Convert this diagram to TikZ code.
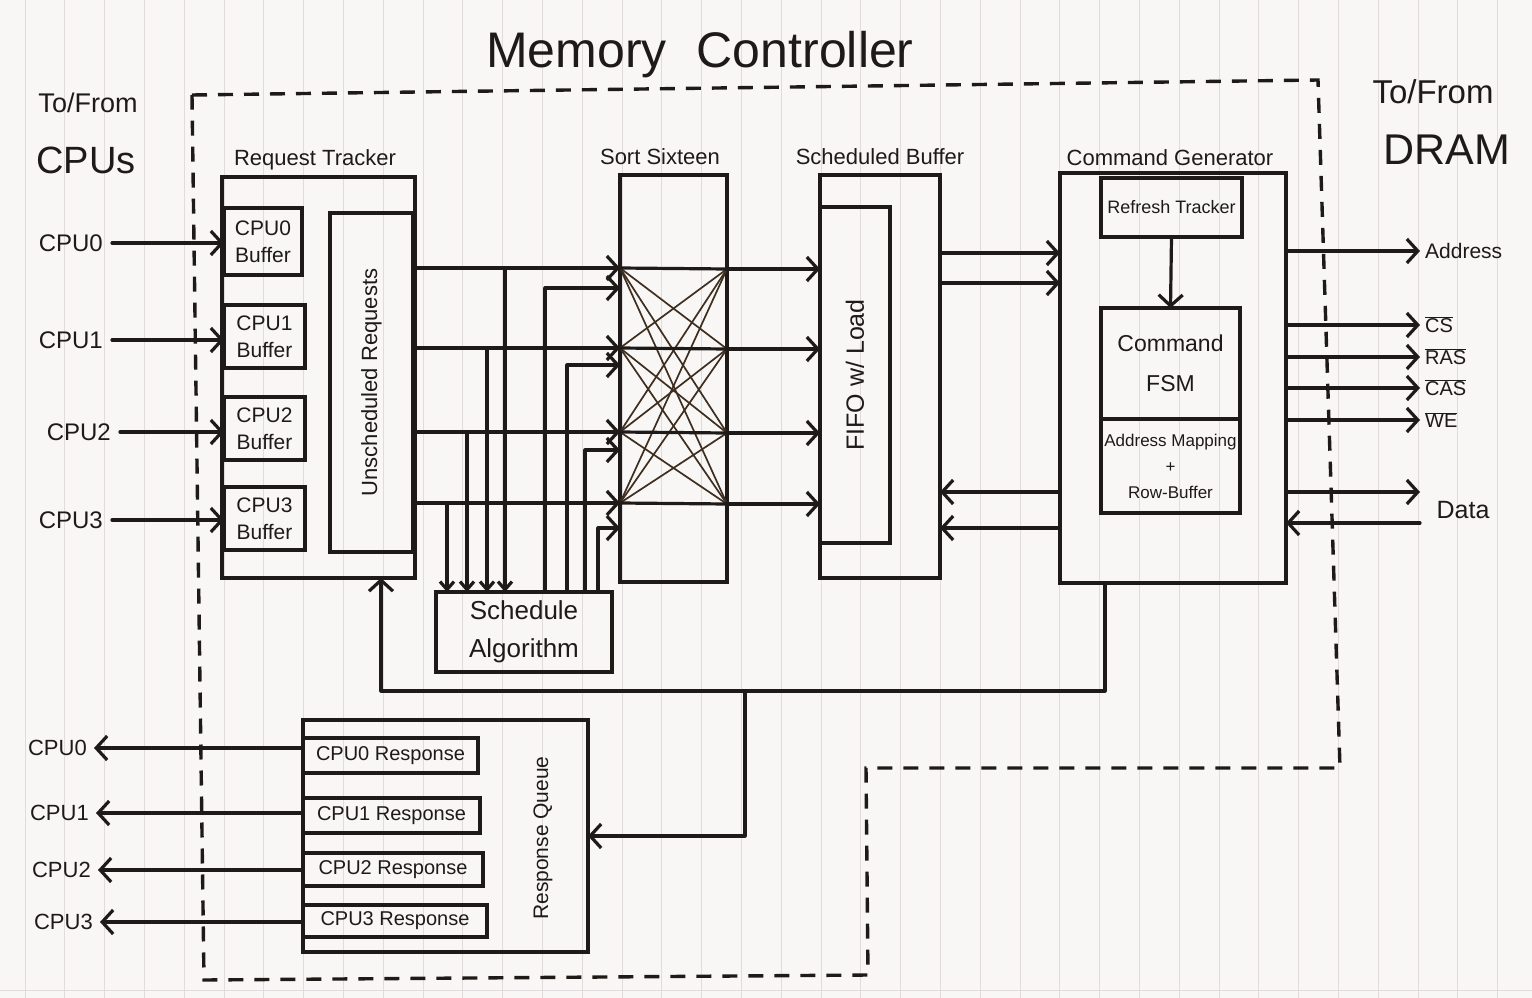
\documentclass[tikz,border=0pt]{standalone}
\usepackage{fontspec}
\setmainfont{Liberation Sans}
\usetikzlibrary{arrows.meta}
\definecolor{ink}{RGB}{30,26,24}
\definecolor{paper}{RGB}{248,247,245}
\definecolor{rulec}{RGB}{224,220,222}
\newcommand\fs[2]{\fontsize{#1}{#2}\selectfont}
\newcommand\drawbox[7][]{%
  \pgfmathsetmacro\bxw{#5-#3}\pgfmathsetmacro\bxh{#6-#4}%
  \node[box,minimum width=\bxw pt,minimum height=\bxh pt,#1] (#2) at ({(#3+#5)/2},{(#4+#6)/2}) {#7};}
\begin{document}
\begin{tikzpicture}[x=1pt,y=-1pt,
  box/.style={draw=ink,line width=3.2pt,inner sep=0pt,outer sep=0pt,align=center,text=ink},
  txt/.style={text=ink,inner sep=2pt,align=center},
  conn/.style={draw=ink,line width=3.2pt,line cap=round,line join=round},
  arr/.style={conn,-{Straight Barb[length=11pt,width=24pt]}},
  xline/.style={draw=ink!80!brown,line width=1.7pt},
  bound/.style={draw=ink,line width=3.4pt,dash pattern=on 15pt off 11pt},
  rulel/.style={draw=rulec,line width=0.9pt}]
\useasboundingbox (0,0) rectangle (1532,998);
\fill[paper] (0,0) rectangle (1532,998);
\foreach \k in {0,...,38} \draw[rulel] ({25+39.8*\k},0) -- ++(0,998);
\draw[rulel] (0,990) -- (1532,990);

% boundary of the memory controller
\draw[bound] (192,95) -- (1318,80) -- (1340,768) -- (866,768) -- (868,975) -- (204,980) -- cycle;

% titles
\node[txt,font=\fs{50}{54}] (title) at (700,55) {Memory\hspace{0.6em}Controller};
\node[txt,font=\fs{27}{30}] (tfc) at (88,103) {To/From};
\node[txt,font=\fs{38}{40}] (cpus) at (86,160) {CPUs};
\node[txt,font=\fs{33}{36}] (tfd) at (1433,92) {To/From};
\node[txt,font=\fs{43}{46}] (dram) at (1447,150) {DRAM};

% request tracker
\drawbox{rt}{222}{177}{415}{578}{}
\node[txt,font=\fs{22}{24}] (rtT) at (315,160) {Request Tracker};
\drawbox[font=\fs{21}{27}]{b0}{224}{208}{302}{275}{CPU0\\Buffer}
\drawbox[font=\fs{21}{27}]{b1}{224}{305}{305}{368}{CPU1\\Buffer}
\drawbox[font=\fs{21}{27}]{b2}{224}{397}{305}{460}{CPU2\\Buffer}
\drawbox[font=\fs{21}{27}]{b3}{224}{487}{305}{550}{CPU3\\Buffer}
\drawbox{ur}{330}{213}{413}{552}{}
\node[txt,rotate=90,font=\fs{22}{24}] (urt) at (ur.center) {Unscheduled Requests};

% sort sixteen
\drawbox{ss}{620}{175}{727}{582}{}
\node[txt,font=\fs{22}{24}] (ssT) at (660,157) {Sort Sixteen};

% scheduled buffer
\drawbox{sb}{820}{175}{940}{578}{}
\node[txt,font=\fs{22}{24}] (sbT) at (880,157) {Scheduled Buffer};
\drawbox{fifo}{820}{207}{890}{543}{}
\node[txt,rotate=90,font=\fs{25}{28}] (fifot) at (fifo.center) {FIFO w/ Load};

% command generator
\drawbox{cg}{1060}{173}{1286}{583}{}
\node[txt,font=\fs{22}{24}] (cgT) at (1170,158) {Command Generator};
\drawbox[font=\fs{18}{20}]{rft}{1101}{178}{1242}{237}{Refresh Tracker}
\drawbox[font=\fs{23}{40}]{fsm}{1101}{308}{1240}{419}{Command\\FSM}
\drawbox[font=\fs{17}{26}]{amap}{1101}{419}{1240}{513}{Address Mapping\\+\\Row-Buffer}

% schedule algorithm
\drawbox[font=\fs{26}{38}]{sa}{436}{592}{612}{672}{Schedule\\Algorithm}

% response queue
\drawbox{rq}{303}{720}{588}{952}{}
\node[txt,rotate=90,font=\fs{21}{24}] (rqt) at (543,838) {Response Queue};
\drawbox[font=\fs{20}{22}]{r0}{303}{738}{478}{773}{CPU0 Response}
\drawbox[font=\fs{20}{22}]{r1}{303}{798}{480}{833}{CPU1 Response}
\drawbox[font=\fs{20}{22}]{r2}{303}{853}{483}{886}{CPU2 Response}
\drawbox[font=\fs{20}{22}]{r3}{303}{905}{487}{937}{CPU3 Response}

% CPU inputs
\node[txt,anchor=east,inner sep=9pt,font=\fs{24}{26}] (in0) at (112,243) {CPU0};
\node[txt,anchor=east,inner sep=9pt,font=\fs{24}{26}] (in1) at (112,340) {CPU1};
\node[txt,anchor=east,inner sep=9pt,font=\fs{24}{26}] (in2) at (120,432) {CPU2};
\node[txt,anchor=east,inner sep=9pt,font=\fs{24}{26}] (in3) at (112,520) {CPU3};
\draw[arr] (in0.east) -- (in0.east -| b0.west);
\draw[arr] (in1.east) -- (in1.east -| b1.west);
\draw[arr] (in2.east) -- (in2.east -| b2.west);
\draw[arr] (in3.east) -- (in3.east -| b3.west);

% CPU outputs
\node[txt,anchor=east,inner sep=7pt,font=\fs{22}{24}] (out0) at (94,748) {CPU0};
\node[txt,anchor=east,inner sep=7pt,font=\fs{22}{24}] (out1) at (96,813) {CPU1};
\node[txt,anchor=east,inner sep=7pt,font=\fs{22}{24}] (out2) at (98,870) {CPU2};
\node[txt,anchor=east,inner sep=7pt,font=\fs{22}{24}] (out3) at (100,922) {CPU3};
\draw[arr] (r0.west |- out0.east) -- (out0.east);
\draw[arr] (r1.west |- out1.east) -- (out1.east);
\draw[arr] (r2.west |- out2.east) -- (out2.east);
\draw[arr] (r3.west |- out3.east) -- (out3.east);

% sort sixteen ports
\coordinate (sl0) at (620,268); \coordinate (sl1) at (620,348);
\coordinate (sl2) at (620,432); \coordinate (sl3) at (620,503);
\coordinate (sr0) at (727,269); \coordinate (sr1) at (727,349);
\coordinate (sr2) at (727,433); \coordinate (sr3) at (727,504);
\coordinate (sk0) at (620,288); \coordinate (sk1) at (620,365);
\coordinate (sk2) at (620,450); \coordinate (sk3) at (620,528);
\foreach \i in {0,...,3}{\foreach \j in {0,...,3}{\draw[xline] (sl\i) -- (sr\j);}}
\foreach \i in {0,...,3}{\draw[conn] (sl\i) -- (sr\i);}

% unscheduled requests -> sort sixteen
\foreach \i in {0,...,3}{\draw[arr] (ur.east |- sl\i) -- (sl\i);}

% taps to schedule algorithm
\coordinate (tp0) at (505,268); \coordinate (tp1) at (487,348);
\coordinate (tp2) at (467,432); \coordinate (tp3) at (447,503);
\foreach \i in {0,...,3}{\draw[conn,-{Straight Barb[length=8pt,width=14pt]}] (tp\i) -- (tp\i |- sa.north);}

% schedule algorithm -> sort sixteen
\coordinate (su0) at (545,600); \coordinate (su1) at (567,600);
\coordinate (su2) at (585,600); \coordinate (su3) at (598,600);
\foreach \i in {0,...,3}{\draw[arr] (su\i |- sa.north) -- (su\i |- sk\i) -- (sk\i);}

% sort sixteen -> scheduled buffer
\foreach \i in {0,...,3}{\draw[arr] (sr\i) -- (sr\i -| sb.west);}

% scheduled buffer <-> command generator
\coordinate (sbo0) at (940,253); \coordinate (sbo1) at (940,283);
\coordinate (sbi0) at (940,492); \coordinate (sbi1) at (940,528);
\draw[arr] (sbo0) -- (sbo0 -| cg.west);
\draw[arr] (sbo1) -- (sbo1 -| cg.west);
\draw[arr] (sbi0 -| cg.west) -- (sbi0);
\draw[arr] (sbi1 -| cg.west) -- (sbi1);

% refresh -> FSM
\draw[arr] (rft.south) -- (fsm.north);

% DRAM outputs
\node[txt,anchor=west,inner sep=5pt,font=\fs{21}{24}] (addr) at (1420,251) {Address};
\node[txt,anchor=west,inner sep=5pt,font=\fs{20}{22}] (cs) at (1420,325) {$\overline{\mbox{CS}}$};
\node[txt,anchor=west,inner sep=5pt,font=\fs{20}{22}] (ras) at (1420,357) {$\overline{\mbox{RAS}}$};
\node[txt,anchor=west,inner sep=5pt,font=\fs{20}{22}] (cas) at (1420,388) {$\overline{\mbox{CAS}}$};
\node[txt,anchor=west,inner sep=5pt,font=\fs{20}{22}] (we) at (1420,420) {$\overline{\mbox{WE}}$};
\node[txt,font=\fs{25}{28}] (data) at (1463,510) {Data};
\draw[arr] (cg.east |- addr.west) -- (addr.west);
\draw[arr] (cg.east |- cs.west) -- (cs.west);
\draw[arr] (cg.east |- ras.west) -- (ras.west);
\draw[arr] (cg.east |- cas.west) -- (cas.west);
\draw[arr] (cg.east |- we.west) -- (we.west);
\coordinate (dOut) at (1420,492); \coordinate (dIn) at (1420,523);
\draw[arr] (cg.east |- dOut) -- (dOut);
\draw[arr] (dIn) -- (dIn -| cg.east);

% feedback from command generator
\coordinate (fbR) at (1105,691); \coordinate (fbM) at (745,691); \coordinate (fbL) at (381,691);
\draw[conn] (fbR |- cg.south) -- (fbR) -- (fbM);
\draw[arr] (fbM) -- (fbL) -- (fbL |- rt.south);
\draw[arr] (fbM) |- (rq.east);
\end{tikzpicture}
\end{document}
